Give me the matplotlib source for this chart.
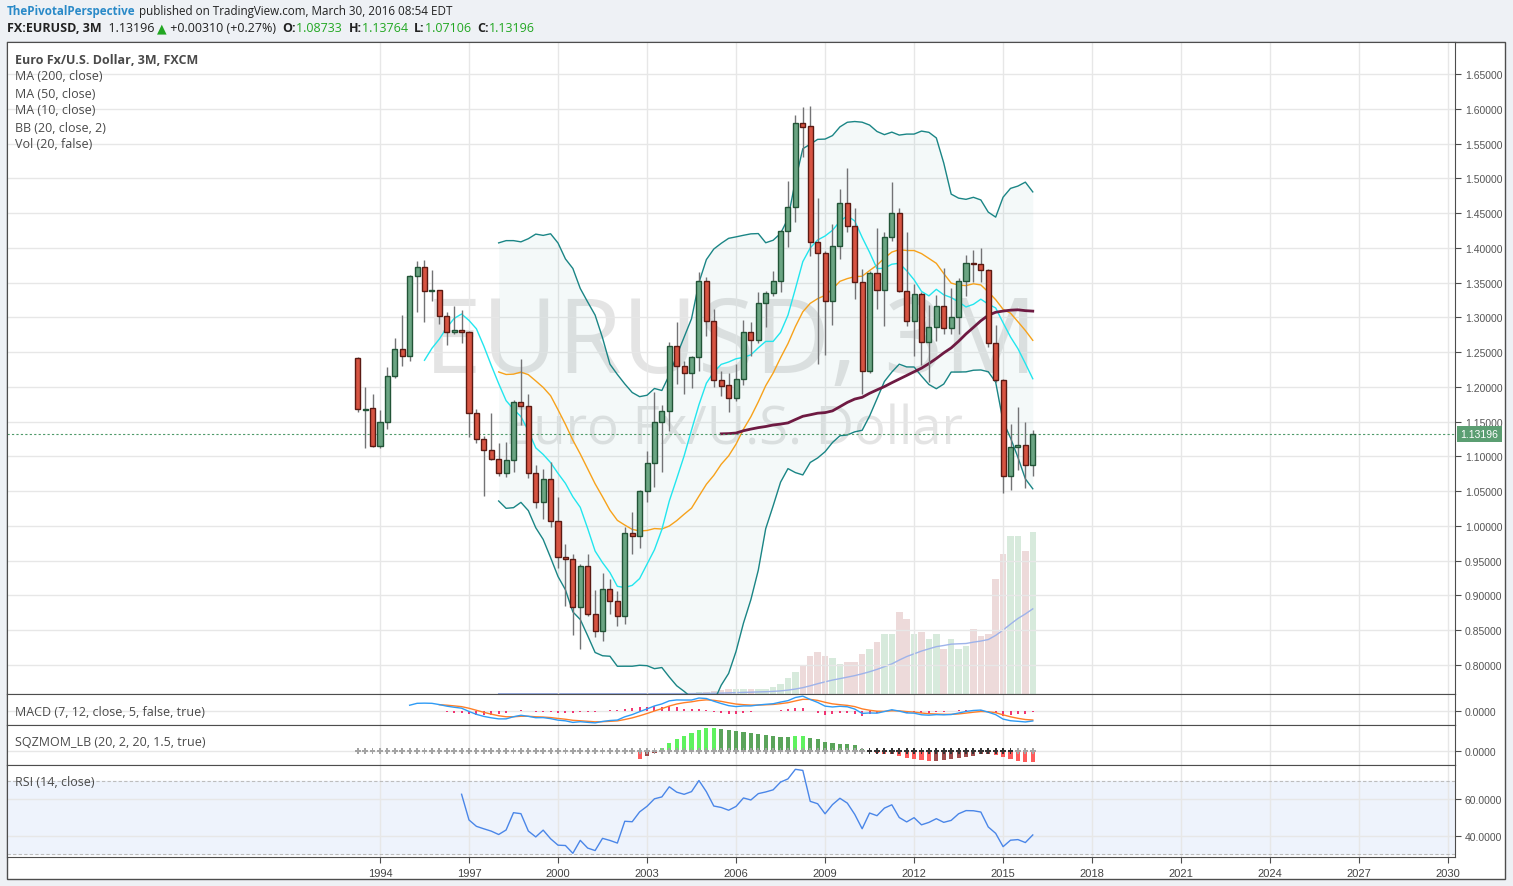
import numpy as np
import pandas as pd
import matplotlib
matplotlib.use("Agg")
import matplotlib.pyplot as plt
from matplotlib.patches import Rectangle

W, H = 1513, 887

# quarterly EUR/USD bars, 1993 Q2 .. 2016 Q1
first_bar = 1993.25
opens = [
    1.2410, 1.1670, 1.1691, 1.1144, 1.1490, 1.2151, 1.2540, 1.2448, 1.3590, 1.3719,
    1.3383, 1.3393, 1.3014, 1.2784, 1.2820, 1.2784, 1.1619, 1.1245, 1.1096, 1.0957,
    1.0756, 1.0943, 1.1777, 1.1729, 1.0756, 1.0348, 1.0675, 1.0066, 0.9548, 0.9519,
    0.8829, 0.9419, 0.8733, 0.8493, 0.9087, 0.8915, 0.8699, 0.9893, 0.9859, 1.0497,
    1.0900, 1.1490, 1.1648, 1.2583, 1.2305, 1.2194, 1.2425, 1.3527, 1.2952, 1.2098,
    1.2023, 1.1835, 1.2113, 1.2784, 1.2674, 1.3201, 1.3346, 1.3527, 1.4246, 1.4582,
    1.5791, 1.5756, 1.4088, 1.3930, 1.3239, 1.4026, 1.4640, 1.4318, 1.3504, 1.2224,
    1.3638, 1.3393, 1.4151, 1.4501, 1.3383, 1.2952, 1.3336, 1.2650, 1.2856, 1.3167,
    1.2850, 1.3000, 1.3518, 1.3777, 1.3767, 1.3685, 1.2631, 1.2094, 1.0722, 1.1130,
    1.1168, 1.08733]
highs = [
    1.2425, 1.1993, 1.1897, 1.1667, 1.2281, 1.2698, 1.3034, 1.3609, 1.3805, 1.3825,
    1.3680, 1.3400, 1.3082, 1.3158, 1.3105, 1.2800, 1.1680, 1.1300, 1.1624, 1.1192,
    1.1202, 1.1815, 1.2401, 1.1897, 1.0876, 1.0818, 1.0914, 1.0411, 0.9740, 0.9596,
    0.9450, 0.9596, 0.9082, 0.9322, 0.9236, 0.9068, 0.9989, 1.0195, 1.0520, 1.1073,
    1.1921, 1.1743, 1.2641, 1.2928, 1.2377, 1.2450, 1.3657, 1.3575, 1.3120, 1.2233,
    1.2199, 1.2329, 1.2966, 1.2930, 1.3360, 1.3383, 1.3671, 1.4260, 1.4956, 1.5915,
    1.6021, 1.6044, 1.4716, 1.3950, 1.4342, 1.4846, 1.5148, 1.4573, 1.3695, 1.3660,
    1.4280, 1.4223, 1.4942, 1.4568, 1.4232, 1.3479, 1.3360, 1.3177, 1.3321, 1.3705,
    1.3417, 1.3561, 1.3896, 1.3968, 1.3997, 1.3700, 1.2890, 1.2110, 1.1466, 1.1705,
    1.1490, 1.13764]
lows = [
    1.1643, 1.1116, 1.1130, 1.1120, 1.1394, 1.2120, 1.2295, 1.2377, 1.3082, 1.2937,
    1.3240, 1.2904, 1.2602, 1.2760, 1.2626, 1.1283, 1.1192, 1.0425, 1.0950, 1.0713,
    1.0699, 1.0780, 1.1456, 1.0684, 1.0262, 1.0099, 0.9979, 0.9390, 0.8852, 0.8431,
    0.8229, 0.8700, 0.8406, 0.8349, 0.8733, 0.8565, 0.8590, 0.9596, 0.9682, 1.0339,
    1.0564, 1.0770, 1.1370, 1.2041, 1.1897, 1.1979, 1.2233, 1.2736, 1.1993, 1.1873,
    1.1643, 1.1800, 1.2027, 1.2448, 1.2630, 1.2866, 1.3300, 1.3369, 1.4016, 1.4376,
    1.5301, 1.3887, 1.2329, 1.2458, 1.2890, 1.3839, 1.4223, 1.3264, 1.1897, 1.2200,
    1.3120, 1.2880, 1.4103, 1.3369, 1.2880, 1.2448, 1.2314, 1.2065, 1.2664, 1.2760,
    1.2760, 1.2760, 1.3302, 1.3503, 1.3513, 1.2578, 1.2070, 1.0473, 1.0521, 1.0808,
    1.0540, 1.07106]
closes = [
    1.1677, 1.1680, 1.1144, 1.1490, 1.2151, 1.2540, 1.2448, 1.3590, 1.3719, 1.3383,
    1.3393, 1.3014, 1.2784, 1.2820, 1.2784, 1.1619, 1.1245, 1.1096, 1.0957, 1.0756,
    1.0943, 1.1777, 1.1729, 1.0756, 1.0348, 1.0675, 1.0066, 0.9548, 0.9519, 0.8829,
    0.9419, 0.8733, 0.8493, 0.9087, 0.8915, 0.8699, 0.9893, 0.9859, 1.0497, 1.0900,
    1.1490, 1.1648, 1.2583, 1.2305, 1.2194, 1.2425, 1.3527, 1.2952, 1.2098, 1.2007,
    1.1835, 1.2113, 1.2784, 1.2674, 1.3201, 1.3346, 1.3527, 1.4246, 1.4582, 1.5791,
    1.5742, 1.4088, 1.3930, 1.3239, 1.4026, 1.4640, 1.4318, 1.3504, 1.2224, 1.3638,
    1.3393, 1.4151, 1.4501, 1.3383, 1.2952, 1.3336, 1.2650, 1.2856, 1.3167, 1.2850,
    1.3000, 1.3518, 1.3777, 1.3767, 1.3685, 1.2631, 1.2094, 1.0722, 1.1130, 1.1168,
    1.0873, 1.13196]
# volume in relative units (tiny before 2004)
volumes = [0.3] * 39 + [
    0.5, 0.5, 0.5, 0.5, 0.5, 0.5, 1, 2, 2, 3,
    4, 5, 5, 5, 5, 5, 5, 7, 10, 16,
    22, 28, 38, 42, 38, 36, 30, 32, 32, 40,
    45, 52, 60, 60, 82, 75, 60, 62, 55, 60,
    45, 55, 45, 48, 65, 58, 60, 115, 140, 158,
    158, 143, 162]

price_ticks = [0.80, 0.85, 0.90, 0.95, 1.00, 1.05, 1.10, 1.15, 1.20, 1.25,
               1.30, 1.35, 1.40, 1.45, 1.50, 1.55, 1.60, 1.65]
year_ticks = [1994, 1997, 2000, 2003, 2006, 2009, 2012, 2015, 2018, 2021, 2024, 2027, 2030]
rsi_ticks = [40, 60]
last_price = 1.13196

legend_lines = ["MA (200, close)", "MA (50, close)", "MA (10, close)", "BB (20, close, 2)", "Vol (20, false)"]

# ---- indicators ----
o = np.array(opens); h = np.array(highs); l = np.array(lows); c = np.array(closes)
n = len(c)
x = first_bar + 0.25 * np.arange(n)
cs = pd.Series(c); hs = pd.Series(h); ls_ = pd.Series(l)

ma10 = cs.rolling(10).mean()
ma50 = cs.rolling(50).mean()
bb_mid = cs.rolling(20).mean()
bb_sd = cs.rolling(20).std(ddof=0)
bb_up = bb_mid + 2 * bb_sd
bb_lo = bb_mid - 2 * bb_sd

vs = pd.Series(volumes, dtype=float)
vol_ma = vs.rolling(20).mean()

ema7 = cs.ewm(span=7, adjust=False).mean()
ema12 = cs.ewm(span=12, adjust=False).mean()
macd = ema7 - ema12
signal = macd.ewm(span=5, adjust=False).mean()
macd[:7] = np.nan
signal[:11] = np.nan
hist = macd - signal


def rma(s, length):
    vals = s.values
    out = np.full(len(vals), np.nan)
    out[length] = np.mean(vals[1:length + 1])
    for i in range(length + 1, len(vals)):
        out[i] = (out[i - 1] * (length - 1) + vals[i]) / length
    return out


delta = cs.diff()
gain = rma(delta.clip(lower=0), 14)
loss = rma((-delta).clip(lower=0), 14)
rsi = 100 - 100 / (1 + gain / loss)

# squeeze momentum (LazyBear)
prev_c = cs.shift(1)
tr = pd.concat([hs - ls_, (hs - prev_c).abs(), (ls_ - prev_c).abs()], axis=1).max(axis=1)
basis = cs.rolling(20).mean()
dev = 1.5 * cs.rolling(20).std(ddof=0)
range_ma = tr.rolling(20).mean()
sqz_on = ((basis - dev) > (basis - 1.5 * range_ma)) & ((basis + dev) < (basis + 1.5 * range_ma))
mid = ((hs.rolling(20).max() + ls_.rolling(20).min()) / 2 + basis) / 2


def linreg_last(y):
    t = np.arange(len(y))
    slope, icpt = np.polyfit(t, y, 1)
    return icpt + slope * (len(y) - 1)


val = (cs - mid).rolling(20).apply(linreg_last, raw=True)
prev_val = val.shift(1).fillna(0)
sqz_colors = np.where(val > 0, np.where(val > prev_val, '#5ef25e', '#5aa45a'),
                      np.where(val < prev_val, '#ff5b5b', '#9e4c4c'))
dot_colors = np.where(sqz_on, '#333333', '#a3a3a3')

# ---- figure ----
plt.rcParams['font.family'] = ['Open Sans', 'DejaVu Sans']
fig = plt.figure(figsize=(W / 100, H / 100), dpi=100)
fig.patch.set_facecolor('#eef1f5')
fig.add_artist(Rectangle((7 / W, 1 - 880 / H), 1498 / W, 837 / H, transform=fig.transFigure,
                         facecolor='white', edgecolor='#4d4d4d', lw=1, zorder=-5))


def rect(top, bottom):
    return [7 / W, 1 - bottom / H, 1448 / W, (bottom - top) / H]


ax_vol = fig.add_axes(rect(43, 695))
ax = fig.add_axes(rect(43, 695), sharex=ax_vol)
ax_macd = fig.add_axes(rect(695, 726), sharex=ax_vol)
ax_sqz = fig.add_axes(rect(726, 766), sharex=ax_vol)
ax_rsi = fig.add_axes(rect(766, 858), sharex=ax_vol)

grid_c = '#e7e7e7'
axis_c = '#4d4d4d'
lab_c = '#555555'
for a in (ax, ax_macd, ax_sqz, ax_rsi):
    for sp in a.spines.values():
        sp.set_color(axis_c)
    a.yaxis.tick_right()
    a.set_xticks(year_ticks)
    a.grid(True, color=grid_c, lw=1)
    a.set_axisbelow(True)
    a.tick_params(axis='y', direction='out', length=4, color=axis_c, labelcolor=lab_c,
                  labelsize=7.5, pad=3)
    a.tick_params(axis='x', length=0, labelbottom=False)

ax_vol.set_facecolor('white')
ax_vol.set_yticks([])
ax_vol.tick_params(axis='x', length=0, labelbottom=False)
for sp in ax_vol.spines.values():
    sp.set_visible(False)
ax.patch.set_visible(False)
ax_vol.set_xlim(1981.43, 2030.23)

# volume
up = c >= o
ax_vol.bar(x, vs, width=0.22, color=np.where(up, '#d3e8d9', '#ecd6d6'), alpha=0.9, zorder=1)
ax_vol.plot(x, vol_ma, color='#9eb3ea', lw=1, zorder=2)
ax_vol.set_ylim(0, vs.max() / 0.248)

# bollinger bands and moving averages
ax.fill_between(x, bb_lo, bb_up, color='#138484', alpha=0.045, lw=0, zorder=1)
ax.plot(x, bb_up, color='#1a8585', lw=1, zorder=2)
ax.plot(x, bb_lo, color='#1a8585', lw=1, zorder=2)
ax.plot(x, bb_mid, color='#f7a21b', lw=1, zorder=2)
ax.plot(x, ma10, color='#22e6ee', lw=1, zorder=2)
ax.plot(x, ma50, color='#6e1a42', lw=2, zorder=2)

# watermark
ax.text(0.5, 0.535, "EURUSD, 3M", transform=ax.transAxes, ha='center', va='center',
        fontsize=75, color='#9a9a9a', alpha=0.26, zorder=0.5)
ax.text(0.502, 0.405, "Euro Fx/U.S. Dollar", transform=ax.transAxes, ha='center', va='center',
        fontsize=38, color='#9a9a9a', alpha=0.26, zorder=0.5)

# candles
ax.vlines(x, l, h, color='#737375', lw=1, zorder=3)
ax.bar(x, np.maximum(np.abs(c - o), 0.0008), bottom=np.minimum(o, c), width=0.17,
       color=np.where(up, '#6ba583', '#d75442'), edgecolor=np.where(up, '#225437', '#5b1a13'),
       linewidth=1, zorder=4)

ax.axhline(last_price, color='#4f9a6a', lw=0.8, ls=(0, (2, 2)), zorder=2.5)
ax.annotate(f"{last_price:.5f}", xy=(1, last_price), xycoords=ax.get_yaxis_transform(),
            xytext=(4, 0), textcoords='offset points', ha='left', va='center', color='white',
            fontsize=7.5, family='Liberation Sans', annotation_clip=False,
            bbox=dict(boxstyle='square,pad=0.3', fc='#5b9e72', ec='none'))

ax.set_yticks(price_ticks)
ax.set_yticklabels([f"{v:.5f}" for v in price_ticks], family='Liberation Sans')
ax.set_ylim(0.7582, 1.696)

# MACD
ax_macd.vlines(x, 0, hist, color='#f0105a', lw=1.2, zorder=2)
ax_macd.plot(x, signal, color='#ff7f27', lw=1, zorder=3)
ax_macd.plot(x, macd, color='#2f9bf5', lw=1, zorder=3)
lo = np.nanmin([macd.min(), signal.min(), hist.min()])
hi = np.nanmax([macd.max(), signal.max(), hist.max()])
pad = (hi - lo) * 0.08
ax_macd.set_ylim(lo - pad, hi + pad)
ax_macd.set_yticks([0])
ax_macd.set_yticklabels(["0.0000"], family='Liberation Sans')

# squeeze momentum
ax_sqz.bar(x, val.fillna(0), width=0.14, color=sqz_colors, zorder=2)
ax_sqz.scatter(x, np.zeros(n), marker='P', s=16, c=dot_colors, lw=0, zorder=3)
lo = min(val.min(), 0); hi = max(val.max(), 0)
pad = (hi - lo) * 0.08
ax_sqz.set_ylim(lo - pad, hi + pad)
ax_sqz.set_yticks([0])
ax_sqz.set_yticklabels(["0.0000"], family='Liberation Sans')

# RSI
ax_rsi.axhspan(30, 70, color='#eef3fc', zorder=0)
ax_rsi.axhline(70, color='#bdbdbd', lw=0.8, ls=(0, (3, 2)), zorder=1)
ax_rsi.axhline(30, color='#bdbdbd', lw=0.8, ls=(0, (3, 2)), zorder=1)
ax_rsi.plot(x, rsi, color='#4a86e8', lw=1, zorder=3)
ax_rsi.set_ylim(28.3, 78.9)
ax_rsi.set_yticks(rsi_ticks)
ax_rsi.set_yticklabels([f"{v:.4f}" for v in rsi_ticks], family='Liberation Sans')
ax_rsi.tick_params(axis='x', length=4, color=axis_c, labelbottom=True, labelsize=8,
                   labelcolor='#444444', pad=4)
ax_rsi.set_xticklabels([str(y) for y in year_ticks], family='Liberation Sans')

# panel labels
txt_c = '#4a4a4a'
fig.text(15 / W, 1 - 60 / H, "Euro Fx/U.S. Dollar, 3M, FXCM", fontsize=9, fontweight='bold',
         color=txt_c, va='center')
for k, s in enumerate(legend_lines):
    fig.text(15 / W, 1 - (77 + 17 * k) / H, s, fontsize=9, color=txt_c, va='center')
fig.text(15 / W, 1 - 712 / H, "MACD (7, 12, close, 5, false, true)", fontsize=9, color=txt_c, va='center')
fig.text(15 / W, 1 - 743 / H, "SQZMOM_LB (20, 2, 20, 1.5, true)", fontsize=9, color=txt_c, va='center')
fig.text(15 / W, 1 - 782 / H, "RSI (14, close)", fontsize=9, color=txt_c, va='center')

# header
renderer = fig.canvas.get_renderer()


def draw_runs(x_px, y_px, runs, size):
    for s, color, weight in runs:
        t = fig.text(x_px / W, 1 - y_px / H, s, color=color, fontsize=size, fontweight=weight,
                     va='center', ha='left')
        x_px += t.get_window_extent(renderer).width


green = '#22a722'
draw_runs(7, 11, [("ThePivotalPerspective", '#2a8ac8', 'bold'),
                  (" published on TradingView.com, March 30, 2016 08:54 EDT", '#222222', 'normal')], 8.4)
draw_runs(7, 29, [("FX:EURUSD, 3M", '#222222', 'bold'), ("  1.13196 ", '#222222', 'normal'),
                  ("▲", green, 'normal'), (" +0.00310 (+0.27%)  ", '#222222', 'normal'),
                  ("O:", '#222222', 'bold'), ("1.08733  ", green, 'normal'),
                  ("H:", '#222222', 'bold'), ("1.13764  ", green, 'normal'),
                  ("L:", '#222222', 'bold'), ("1.07106  ", green, 'normal'),
                  ("C:", '#222222', 'bold'), ("1.13196", green, 'normal')], 9.0)

fig.savefig("out.png", dpi=100, facecolor=fig.get_facecolor())
